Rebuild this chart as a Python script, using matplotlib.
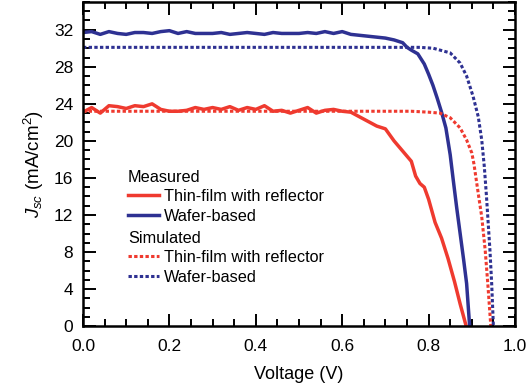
import matplotlib
matplotlib.use("Agg")
import matplotlib.pyplot as plt
from matplotlib.ticker import MultipleLocator

plt.rcParams['font.family'] = ['Liberation Sans', 'DejaVu Sans']
plt.rcParams['mathtext.fontset'] = 'custom'
plt.rcParams['mathtext.rm'] = 'Liberation Sans'
plt.rcParams['mathtext.it'] = 'Liberation Sans:italic'

RED = '#EF3A2F'
BLUE = '#2E3192'

# Measured, thin-film with reflector
v_tf_meas = [0.00, 0.02, 0.04, 0.06, 0.08, 0.10, 0.12, 0.14, 0.16, 0.18,
             0.20, 0.22, 0.24, 0.26, 0.28, 0.30, 0.32, 0.34, 0.36, 0.38,
             0.40, 0.42, 0.44, 0.46, 0.48, 0.50, 0.52, 0.54, 0.56, 0.58,
             0.60, 0.62, 0.64, 0.66, 0.68, 0.70, 0.72, 0.74, 0.76, 0.77,
             0.78, 0.79, 0.80, 0.815, 0.83, 0.845, 0.86, 0.873, 0.887]
j_tf_meas = [23.1, 23.6, 23.0, 23.8, 23.7, 23.5, 23.8, 23.7, 24.0, 23.4,
             23.2, 23.2, 23.3, 23.6, 23.4, 23.6, 23.4, 23.7, 23.3, 23.6,
             23.4, 23.8, 23.2, 23.3, 23.0, 23.3, 23.6, 23.0, 23.3, 23.4,
             23.2, 23.1, 22.6, 22.1, 21.6, 21.3, 20.0, 18.9, 17.8, 16.2,
             15.4, 15.0, 13.7, 11.2, 9.5, 7.3, 4.8, 2.4, 0.0]

# Measured, wafer-based
v_wb_meas = [0.00, 0.02, 0.04, 0.06, 0.08, 0.10, 0.12, 0.14, 0.16, 0.18,
             0.20, 0.22, 0.24, 0.26, 0.28, 0.30, 0.32, 0.34, 0.36, 0.38,
             0.40, 0.42, 0.44, 0.46, 0.48, 0.50, 0.52, 0.54, 0.56, 0.58,
             0.60, 0.62, 0.64, 0.66, 0.68, 0.70, 0.72, 0.74, 0.75, 0.76,
             0.775, 0.79, 0.80, 0.81, 0.82, 0.83, 0.84, 0.85, 0.857, 0.865,
             0.873, 0.881, 0.888, 0.895]
j_wb_meas = [31.7, 31.8, 31.5, 31.8, 31.6, 31.5, 31.7, 31.7, 31.6, 31.8,
             31.9, 31.6, 31.8, 31.6, 31.6, 31.6, 31.7, 31.5, 31.6, 31.7,
             31.6, 31.5, 31.7, 31.6, 31.6, 31.6, 31.7, 31.6, 31.8, 31.6,
             31.8, 31.5, 31.4, 31.3, 31.2, 31.1, 30.9, 30.6, 30.1, 29.8,
             29.4, 28.3, 27.2, 26.0, 24.6, 23.1, 21.4, 18.5, 15.8, 12.8,
             10.0, 7.2, 4.6, 0.0]

# Simulated, thin-film with reflector
v_tf_sim = [0.00, 0.20, 0.40, 0.60, 0.76, 0.80, 0.826, 0.85, 0.873, 0.888,
            0.90, 0.905, 0.915, 0.923, 0.931, 0.937, 0.944]
j_tf_sim = [23.2, 23.2, 23.2, 23.2, 23.2, 23.1, 23.0, 22.5, 21.4, 20.1,
            18.7, 17.5, 14.3, 11.8, 8.2, 4.6, 0.0]

# Simulated, wafer-based
v_wb_sim = [0.00, 0.20, 0.40, 0.60, 0.78, 0.811, 0.85, 0.873, 0.888, 0.903,
            0.915, 0.923, 0.929, 0.934, 0.937, 0.942, 0.946, 0.950]
j_wb_sim = [30.1, 30.1, 30.1, 30.1, 30.1, 30.0, 29.5, 28.4, 27.0, 24.8,
            22.6, 20.1, 17.2, 14.0, 11.8, 8.2, 4.6, 0.0]

labels = ['Thin-film with reflector', 'Wafer-based']

fig = plt.figure(figsize=(5.30, 3.92), dpi=100)
ax = fig.add_axes([0.1566, 0.168, 0.8151, 0.827])

solid_lw = 2.5
dot_lw = 2.2
dots = (1.1, 0.75)

l1, = ax.plot(v_tf_meas, j_tf_meas, color=RED, lw=solid_lw, solid_joinstyle='round')
l2, = ax.plot(v_wb_meas, j_wb_meas, color=BLUE, lw=solid_lw, solid_joinstyle='round')
l3, = ax.plot(v_tf_sim, j_tf_sim, color=RED, lw=dot_lw, dashes=dots)
l4, = ax.plot(v_wb_sim, j_wb_sim, color=BLUE, lw=dot_lw, dashes=dots)

ax.set_xlim(0, 1.0)
ax.set_ylim(0, 35)
ax.xaxis.set_major_locator(MultipleLocator(0.2))
ax.xaxis.set_minor_locator(MultipleLocator(0.05))
ax.yaxis.set_major_locator(MultipleLocator(4))
ax.yaxis.set_minor_locator(MultipleLocator(1))
ax.xaxis.set_major_formatter(plt.FuncFormatter(lambda v, p: f'{v:.1f}'))

ax.tick_params(which='both', direction='in', top=True, right=True,
               width=1.4, labelsize=12.5, colors='black')
ax.tick_params(which='major', length=9)
ax.tick_params(which='minor', length=5)
ax.tick_params(axis='y', pad=7)
ax.tick_params(axis='x', pad=9)
for s in ax.spines.values():
    s.set_linewidth(1.8)

ax.set_xlabel('Voltage (V)', fontsize=13, labelpad=9)
ax.set_ylabel('$J_{sc}$ (mA/cm$^2$)', fontsize=13.5, labelpad=6)

leg_kw = dict(frameon=False, fontsize=11.7, title_fontsize=11.7, alignment='left',
              handlelength=1.9, handletextpad=0.3, labelspacing=0.28,
              borderpad=0, borderaxespad=0, loc='upper left')
leg1 = ax.legend([l1, l2], labels, title='Measured',
                 bbox_to_anchor=(0.104, 0.483), **leg_kw)
ax.add_artist(leg1)
leg2 = ax.legend([l3, l4], labels, title='Simulated',
                 bbox_to_anchor=(0.104, 0.295), **leg_kw)

fig.savefig('out.png', dpi=100)
